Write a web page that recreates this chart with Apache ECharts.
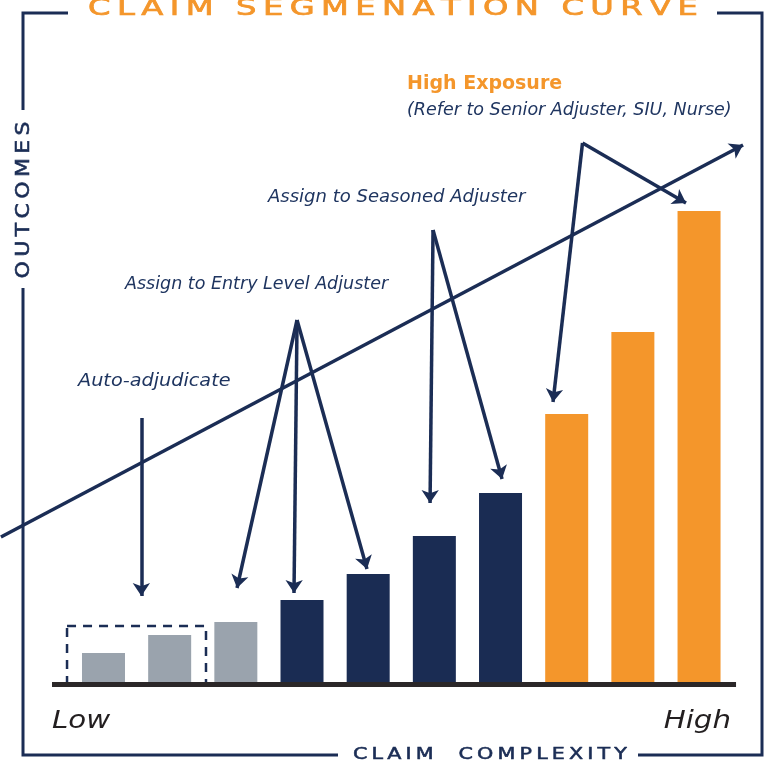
<!DOCTYPE html>
<html>
<head>
<meta charset="utf-8">
<script src="https://cdn.jsdelivr.net/npm/echarts@6/dist/echarts.min.js"></script>
<style>
  html, body { margin: 0; background: #fff; }
  #chart { width: 767px; height: 762px; }
</style>
</head>
<body>
<div id="chart"></div>
<script>
// Claim complexity steps (low -> high) and the outcome height of each bar.
const COMPLEXITY = [1, 2, 3, 4, 5, 6, 7, 8, 9, 10];
const OUTCOME = [6.3, 9.9, 12.5, 16.9, 22.1, 29.7, 38.3, 54.1, 70.5, 94.7];
const TIER = ['auto', 'auto', 'auto', 'entry', 'entry', 'entry', 'entry', 'high', 'high', 'high'];

// Rising curve across the chart, and the pointers from each label to its bars.
const TREND = [[-0.55, 29.5], [10.665, 107.9]];
const POINTERS = [
  { from: [1.572, 53.3], to: [[1.572, 17.7]] },
  { from: [3.925, 72.9], to: [[3.018, 19.3], [3.879, 18.3], [4.982, 23.1]] },
  { from: [5.980, 90.9], to: [[5.935, 36.3], [7.023, 41.1]] },
  { from: [8.239, 108.3], to: [[7.793, 56.5], [9.803, 96.3]] },
];
// Dashed box around the auto-adjudicated bars, and the extent of the floor line.
const AUTO_BOX = [[0.449, 11.7], [2.549, -2.9]];
const BASELINE = [0.222, 10.559];

const NAVY = '#1b2d55';
const ORANGE = '#f4962b';
const TIER_COLOR = { auto: '#9aa3ad', entry: '#1a2c53', high: ORANGE };
const FONT = 'DejaVu Sans';

function spaced(str, gap, wordGap) {
  return str.split(' ').map(w => w.split('').join(gap)).join(wordGap);
}

const pointerLines = [];
POINTERS.forEach(p => {
  p.to.forEach(t => {
    pointerLines.push([{ coord: p.from }, { coord: t }]);
  });
});
pointerLines.push([{ coord: TREND[0] }, { coord: TREND[1] }]);

function label(x, y, text, extra, scaleX) {
  return {
    type: 'text', x, y, z: 20, scaleX: scaleX || 1,
    style: Object.assign({
      text, align: 'left', verticalAlign: 'middle',
      fill: '#1f3560', font: `italic 17.5px "${FONT}"`,
    }, extra || {}),
  };
}

function frameLine(points) {
  return {
    type: 'polyline', z: 20,
    shape: { points },
    style: { stroke: NAVY, lineWidth: 3, fill: null },
  };
}

const chart = echarts.init(document.getElementById('chart'));
chart.setOption({
  animation: false,
  grid: { left: 0, right: 0, top: 0, bottom: 77.5 },
  xAxis: { type: 'value', min: -0.564, max: 11.027, show: false },
  yAxis: { type: 'value', min: 0, max: 136.9, show: false },
  series: [
    {
      type: 'bar',
      barWidth: 43,
      data: COMPLEXITY.map((c, i) => ({
        value: [c, OUTCOME[i]],
        itemStyle: { color: TIER_COLOR[TIER[i]] },
      })),
      markLine: {
        silent: true,
        symbol: ['none', 'arrow'],
        symbolSize: 13,
        label: { show: false },
        lineStyle: { color: NAVY, width: 3.5, type: 'solid' },
        data: pointerLines,
      },
    },
    {
      type: 'line',
      z: 10,
      data: [],
      markLine: {
        silent: true,
        symbol: 'none',
        label: { show: false },
        lineStyle: { color: '#2b2728', width: 5, type: 'solid' },
        data: [[{ coord: [BASELINE[0], 0] }, { coord: [BASELINE[1], 0] }]],
      },
      markArea: {
        silent: true,
        itemStyle: {
          color: 'rgba(0,0,0,0)', borderColor: NAVY, borderWidth: 2.5,
          borderType: [9, 7],
        },
        data: [[{ coord: AUTO_BOX[0] }, { coord: AUTO_BOX[1] }]],
      },
    },
  ],
  graphic: [
    frameLine([[23, 110], [23, 13], [68, 13]]),
    frameLine([[717, 13], [762, 13], [762, 755], [638, 755]]),
    frameLine([[338, 755], [23, 755], [23, 288]]),
    {
      type: 'text', x: 393, y: 9, z: 20, scaleX: 1.4,
      style: {
        text: spaced('CLAIM SEGMENATION CURVE', '\u2009', '\u2002\u2009'),
        align: 'center', verticalAlign: 'middle',
        fill: ORANGE, stroke: ORANGE, lineWidth: 0.7, font: `23px "${FONT}"`,
      },
    },
    {
      type: 'text', x: 490, y: 755, z: 20, scaleX: 1.38,
      style: {
        text: spaced('CLAIM COMPLEXITY', '\u2009', '\u2003\u2009'),
        align: 'center', verticalAlign: 'middle',
        fill: NAVY, stroke: NAVY, lineWidth: 0.5, font: `15px "${FONT}"`,
      },
    },
    {
      type: 'text', x: 24, y: 200, z: 20, rotation: Math.PI / 2, scaleX: 1.1,
      style: {
        text: spaced('OUTCOMES', '\u2009', ' '),
        align: 'center', verticalAlign: 'middle',
        fill: NAVY, stroke: NAVY, lineWidth: 0.6, font: `20px "${FONT}"`,
      },
    },
    label(78, 381, 'Auto-adjudicate', null, 1.1),
    label(125, 284, 'Assign to Entry Level Adjuster'),
    label(268, 197, 'Assign to Seasoned Adjuster', null, 1.03),
    label(407, 84, 'High Exposure', { fill: ORANGE, font: `bold 19px "${FONT}"` }),
    label(407, 110, '(Refer to Senior Adjuster, SIU, Nurse)'),
    label(52, 722, 'Low', { fill: '#231f20', font: `italic 24px "${FONT}"` }, 1.22),
    label(731, 722, 'High', { fill: '#231f20', font: `italic 24px "${FONT}"`, align: 'right' }, 1.22),
  ],
});
</script>
</body>
</html>
